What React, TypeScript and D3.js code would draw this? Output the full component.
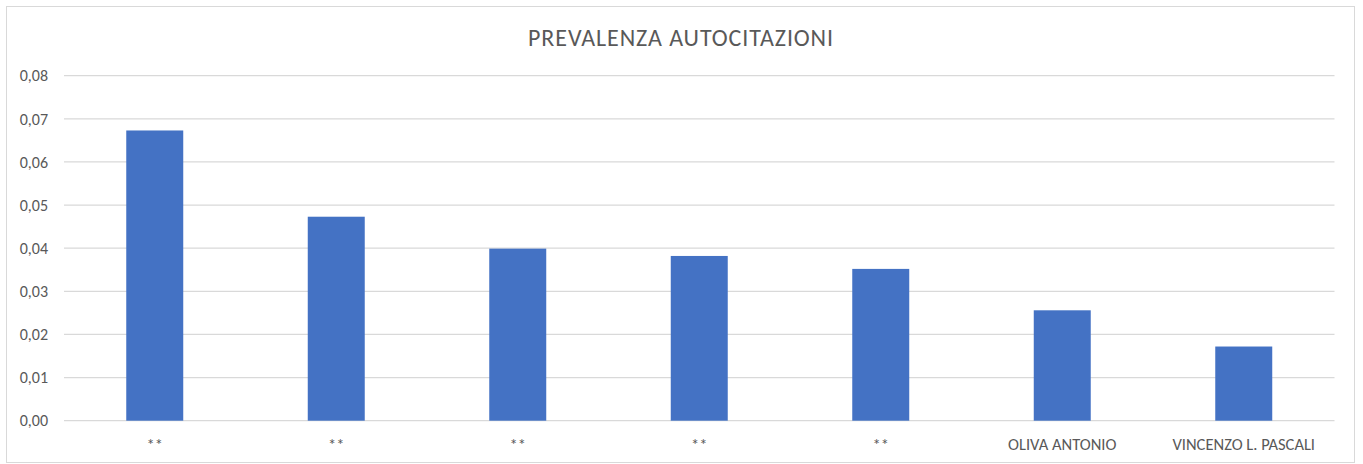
import { useMemo } from "react";
import * as d3 from "d3";

const WIDTH = 1363;
const HEIGHT = 464;
const MARGIN = { top: 75.7, right: 28.5, bottom: 43.3, left: 64 };

const TITLE = "PREVALENZA AUTOCITAZIONI";
const categories = ["**", "**", "**", "**", "**", "OLIVA ANTONIO", "VINCENZO L. PASCALI"];
const values = [0.0673, 0.0473, 0.0399, 0.0382, 0.0352, 0.0256, 0.0172];
const yTicks = [0, 0.01, 0.02, 0.03, 0.04, 0.05, 0.06, 0.07, 0.08];

const FONT = "Carlito, Calibri, Lato, 'Open Sans', sans-serif";
const TEXT_COLOR = "#595959";
const BAR_COLOR = "#4472C4";

export default function App() {
  const boundsWidth = WIDTH - MARGIN.left - MARGIN.right;
  const boundsHeight = HEIGHT - MARGIN.top - MARGIN.bottom;

  // one band per category, keep index in the domain since labels repeat
  const xScale = useMemo(
    () =>
      d3
        .scaleBand<number>()
        .domain(categories.map((_, i) => i))
        .range([0, boundsWidth])
        .paddingInner(0.686)
        .paddingOuter(0.343),
    [boundsWidth]
  );

  const yScale = useMemo(
    () => d3.scaleLinear().domain([0, 0.08]).range([boundsHeight, 0]),
    [boundsHeight]
  );

  const fmt = (v: number) => v.toFixed(2).replace(".", ",");

  return (
    <svg
      width={WIDTH}
      height={HEIGHT}
      style={{ position: "absolute", left: 0, top: 0, background: "#fff" }}
    >
      <rect x={6.5} y={6.5} width={1348} height={456} fill="#fff" stroke="#d9d9d9" strokeWidth={1} />
      <text
        x={681}
        y={46}
        textAnchor="middle"
        fontFamily={FONT}
        fontSize={24}
        letterSpacing={0.9}
        fill={TEXT_COLOR}
      >
        {TITLE}
      </text>
      <g transform={`translate(${MARGIN.left},${MARGIN.top})`}>
        {yTicks.map((t) => (
          <g key={t}>
            <line
              x1={0}
              x2={boundsWidth}
              y1={yScale(t)}
              y2={yScale(t)}
              stroke="#d9d9d9"
              strokeWidth={1.3}
            />
            <text
              x={-16}
              y={yScale(t)}
              dy="0.36em"
              textAnchor="end"
              fontFamily={FONT}
              fontSize={16}
              fill={TEXT_COLOR}
            >
              {fmt(t)}
            </text>
          </g>
        ))}
        {values.map((v, i) => (
          <rect
            key={i}
            x={xScale(i)}
            y={yScale(v)}
            width={xScale.bandwidth()}
            height={boundsHeight - yScale(v)}
            fill={BAR_COLOR}
          />
        ))}
        {categories.map((c, i) => (
          <text
            key={i}
            x={(xScale(i) ?? 0) + xScale.bandwidth() / 2}
            y={boundsHeight + 29.5}
            textAnchor="middle"
            fontFamily={FONT}
            fontSize={16.5}
            fill={TEXT_COLOR}
          >
            {c}
          </text>
        ))}
      </g>
    </svg>
  );
}
